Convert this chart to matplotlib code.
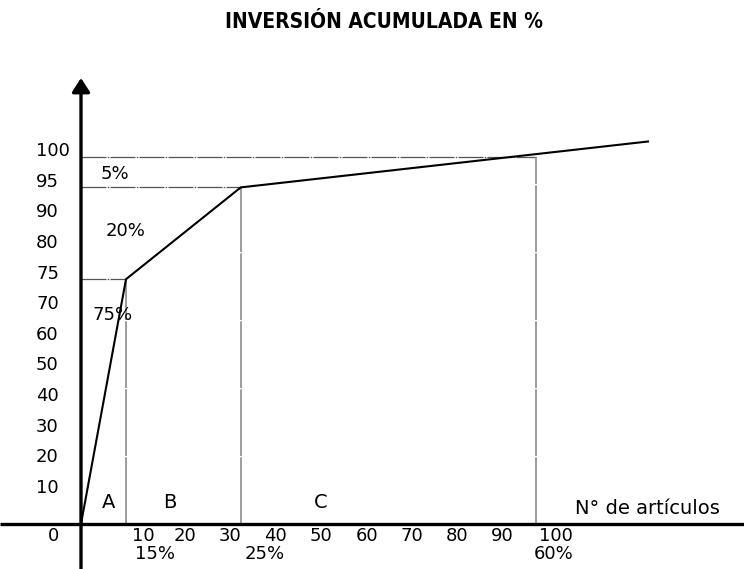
import numpy as np
import matplotlib
matplotlib.use("Agg")
import matplotlib.pyplot as plt
import matplotlib.transforms as mtransforms
from matplotlib import font_manager

# ---------------- data ----------------
y_tick_values = [10, 20, 30, 40, 50, 60, 70, 75, 80, 90, 95, 100]
x_tick_labels = ["10", "20", "30", "40", "50", "60", "70", "80", "90", "100"]
x_tick_pos = [13.8, 23.1, 33.1, 43.3, 53.3, 63.6, 73.6, 83.6, 93.6, 105.6]

curve_x = [0, 10, 35.5, 126]
curve_y = [0, 75, 95, 102.5]

zone_bounds_x = [10, 35.5, 101]       # vertical guide lines (A|B, B|C, C end)
zone_bounds_y = [75, 95, 100]         # horizontal guide lines
zone_letters = ["A", "B", "C"]
zone_letter_x = [6.2, 19.8, 53.3]
items_pct = ["15%", "25%", "60%"]
items_pct_x = [16.4, 40.9, 105.1]
inv_pct = ["75%", "20%", "5%"]
inv_pct_x = [7.1, 10.0, 7.6]
inv_pct_y = [68.3, 85.75, 97.2]

title = "INVERSIÓN ACUMULADA EN %"
xlabel = "N° de artículos"

# ------------- custom (uneven) y scale -------------
knot_vals = np.array([0] + y_tick_values, dtype=float)
knot_pos = np.arange(len(knot_vals), dtype=float)


def fwd(v):
    v = np.asarray(v, dtype=float)
    p = np.interp(v, knot_vals, knot_pos)
    p = np.where(v < 0, v / 10.0, p)
    p = np.where(v > 100, 12 + (v - 100) / 5.0, p)
    return p


def inv(p):
    p = np.asarray(p, dtype=float)
    v = np.interp(p, knot_pos, knot_vals)
    v = np.where(p < 0, p * 10.0, v)
    v = np.where(p > 12, 100 + (p - 12) * 5.0, v)
    return v


W, H = 744, 569
fig = plt.figure(figsize=(W / 100, H / 100), dpi=100)
ax = fig.add_axes([0, 0, 1, 1])
ax.set_yscale("function", functions=(fwd, inv))
px_per_x = 4.5
px_per_pos = 30.6
x0_px, y0_px = 81, 524
ax.set_xlim(-x0_px / px_per_x, (W - x0_px) / px_per_x)
ax.set_ylim(float(inv(-(H - y0_px) / px_per_pos)), float(inv(y0_px / px_per_pos)))
ax.axis("off")

# title font: a narrow bold face if available, else Liberation Sans bold
title_font = None
for f in font_manager.fontManager.ttflist:
    n = (f.fname + " " + f.name).lower()
    if ("narrow" in n or "condensed" in n) and ("liberation" in n or "dejavu" in n or "roboto" in n or "open" in n) \
            and f.weight in ("bold", 700, "heavy"):
        title_font = f.fname
        break
txt_family = ["DejaVu Sans"]
fs = 13

# guide lines
for xb, yb in zip(zone_bounds_x, zone_bounds_y):
    ax.plot([0, xb], [yb, yb], color="#555555", lw=0.9, ls=(0, (20, 1.0, 1.2, 1.0)), zorder=2)
    ax.plot([xb, xb], [0, yb], color="#8a8a8a", lw=1.2, ls=(0, (40, 0.8)), zorder=2)

# curve
ax.plot(curve_x, curve_y, color="black", lw=1.5, zorder=4, solid_joinstyle="miter")

# axes lines
ax.plot([ax.get_xlim()[0], ax.get_xlim()[1]], [0, 0], color="black", lw=2.4, zorder=5, solid_capstyle="butt")
y_top = float(inv((y0_px - 78) / px_per_pos))
ax.annotate("", xy=(0, y_top), xytext=(0, ax.get_ylim()[0]),
            arrowprops=dict(arrowstyle="-|>,head_length=0.42,head_width=0.27",
                            mutation_scale=20, lw=2.4, color="black",
                            shrinkA=0, shrinkB=0), zorder=6)

# y tick labels
ylab_tr = mtransforms.offset_copy(ax.transData, fig=fig, x=0, y=5.5, units="dots")
for v in y_tick_values:
    ax.text(-10, v, str(v), transform=ylab_tr, ha="left", va="center",
            fontsize=fs, family=txt_family)

# x tick labels
xlab_tr = mtransforms.offset_copy(ax.transData, fig=fig, x=0, y=-12, units="dots")
ax.text(-6.2, 0, "0", transform=xlab_tr, ha="center", va="center", fontsize=fs, family=txt_family)
for xp, lab in zip(x_tick_pos, x_tick_labels):
    ax.text(xp, 0, lab, transform=xlab_tr, ha="center", va="center", fontsize=fs, family=txt_family)

pct_tr = mtransforms.offset_copy(ax.transData, fig=fig, x=0, y=-30, units="dots")
for xp, lab in zip(items_pct_x, items_pct):
    ax.text(xp, 0, lab, transform=pct_tr, ha="center", va="center", fontsize=fs, family=txt_family)

letter_tr = mtransforms.offset_copy(ax.transData, fig=fig, x=0, y=22, units="dots")
for xp, lab in zip(zone_letter_x, zone_letters):
    ax.text(xp, 0, lab, transform=letter_tr, ha="center", va="center", fontsize=14, family=txt_family)

xl_tr = mtransforms.offset_copy(ax.transData, fig=fig, x=0, y=15, units="dots")
ax.text(125.8, 0, xlabel, transform=xl_tr, ha="center", va="center", fontsize=14, family=txt_family)

for xp, yp, lab in zip(inv_pct_x, inv_pct_y, inv_pct):
    ax.text(xp, yp, lab, ha="center", va="center", fontsize=fs, family=txt_family, zorder=3)

if title_font:
    fig.text(384 / W, 1 - 22 / H, title, ha="center", va="center",
             fontproperties=font_manager.FontProperties(fname=title_font, size=15))
else:
    fig.text(384 / W, 1 - 22 / H, title, ha="center", va="center", fontsize=15,
             fontweight="bold", family=["Liberation Sans", "DejaVu Sans"])

fig.savefig("out.png", dpi=100)
